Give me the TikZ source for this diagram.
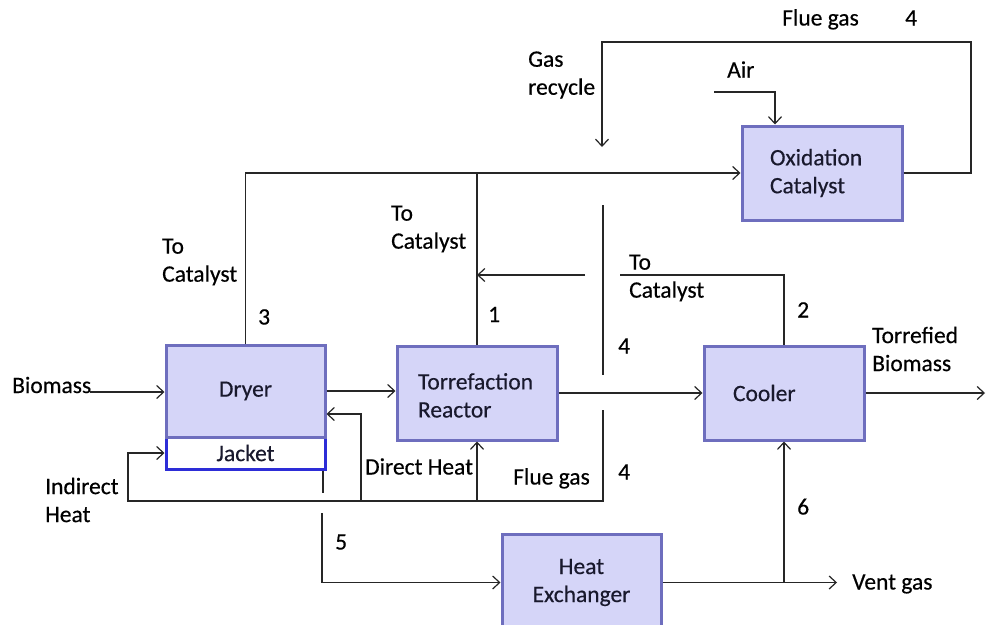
\documentclass[tikz,border=0pt]{standalone}
\usepackage{fontspec}
\setmainfont{Carlito}[FakeBold=0.4]
\usetikzlibrary{arrows.meta}
\definecolor{boxfill}{RGB}{213,213,248}
\definecolor{boxdraw}{RGB}{110,110,190}
\definecolor{jacketdraw}{RGB}{45,45,215}
\definecolor{boxtext}{RGB}{25,25,45}
\begin{document}
\begin{tikzpicture}[x=1pt,y=-1pt,
  every node/.style={font=\fontsize{23.5}{28}\selectfont},
  proc/.style={draw=boxdraw, fill=boxfill, line width=3pt, text=boxtext, inner sep=0pt},
  lbl/.style={inner sep=0pt, text=black},
  flow/.style={line width=1.2pt, draw=black!85},
  arr/.style={flow, -{Straight Barb[length=7pt,width=13pt]}}
]
\useasboundingbox (0,0) rectangle (987,624);
\fill[white] (0,0) rectangle (987,624);
\clip (0,0) rectangle (987,624);

% process boxes
\node[proc, draw=jacketdraw, fill=white, minimum width=159pt, minimum height=32pt] (jacket) at (245.5,453) {Jacket};
\node[proc, minimum width=159pt, minimum height=92pt] (dryer) at (245.5,391) {Dryer};
\node[proc, minimum width=160pt, minimum height=94pt, text width=118pt, align=left] (torr) at (477,393) {\rule{0pt}{21pt}Torrefaction\\Reactor};
\node[proc, minimum width=160pt, minimum height=94pt, text width=102pt, align=left] (cooler) at (784,393) {Cooler};
\node[proc, minimum width=160pt, minimum height=94pt, text width=104pt, align=left] (oxid) at (822,173) {Oxidation\\Catalyst};
\node[proc, minimum width=159pt, minimum height=97pt, align=center] (hx) at (581.5,582.5) {Heat\\Exchanger};

% labels
\node[lbl, anchor=base west] (lbio) at (12,393) {Biomass};
\node[lbl, anchor=west, align=left] (lind) at (45,500) {Indirect\\Heat};
\node[lbl, anchor=west, align=left] (ltc3) at (162,262) {To\\Catalyst};
\node[lbl, anchor=west, align=left] (ltc1) at (391,229) {To\\Catalyst};
\node[lbl, anchor=west, align=left] (ltc2) at (629,278) {To\\Catalyst};
\node[lbl, anchor=west, align=left] (lgr) at (528,75) {Gas\\recycle};
\node[lbl, anchor=west, align=left] (ltb) at (872,349) {Torrefied\\Biomass};
\node[lbl, anchor=base west] (lfgt) at (782,25.5) {Flue gas};
\node[lbl, anchor=base west] (l4t) at (905,25.5) {4};
\node[lbl, anchor=base west] (lair) at (727,77.5) {Air};
\node[lbl, anchor=base west] (l3) at (258,324.5) {3};
\node[lbl, anchor=base west] (l1) at (488,322) {1};
\node[lbl, anchor=base west] (l2) at (797,317.5) {2};
\node[lbl, anchor=base west] (l4m) at (618,353.5) {4};
\node[lbl, anchor=base west] (l4b) at (618,479.5) {4};
\node[lbl, anchor=base west] (lfgb) at (513,484.5) {Flue gas};
\node[lbl, anchor=base west] (ldh) at (365,474.5) {Direct Heat};
\node[lbl, anchor=base west] (l6) at (797,514.5) {6};
\node[lbl, anchor=base west] (l5) at (335,549.5) {5};
\node[lbl, anchor=base west] (lvent) at (852,589.5) {Vent gas};

% main solid flow
\coordinate (bmS) at (90,392);
\draw[arr] (bmS) -- (bmS -| dryer.west);
\draw[arr] (dryer.east) -- (dryer.east -| torr.west);
\draw[arr] (torr.east) -- (cooler.west);
\coordinate (prodE) at (985,393);
\draw[arr] (cooler.east) -- (prodE);

% gases to catalyst
\draw[arr] (dryer.north) |- (oxid.west);
\draw[flow] (torr.north) -- (torr.north |- oxid.west);
\coordinate (fgA) at (585,275);
\draw[arr] (fgA) -- (fgA -| torr.north);
\coordinate (tcR) at (620,275);
\draw[flow] (cooler.north) |- (tcR);

% flue gas distribution
\coordinate (fgT1) at (603,205);
\coordinate (fgT2) at (603,375);
\draw[flow] (fgT1) -- (fgT2);
\coordinate (fgB1) at (603,410);
\coordinate (fgB2) at (603,501);
\coordinate (fgL) at (128,501);
\draw[arr] (fgB1) -- (fgB2) -- (fgL) |- (jacket.west);
\coordinate (dhB) at (361,501);
\coordinate (dhT) at (361,414);
\draw[arr] (dhB) -- (dhT) -- (dhT -| dryer.east);
\draw[arr] (torr.south |- fgB2) -- (torr.south);

% jacket outlet to heat exchanger
\coordinate (jS) at (323,493);
\draw[flow] (jS |- jacket.south) -- (jS);
\coordinate (hxS) at (322,513);
\draw[arr] (hxS) |- (hx.west);
\coordinate (vent) at (837,582.5);
\draw[arr] (hx.east) -- (vent);
\draw[arr] (cooler.south |- hx.east) -- (cooler.south);

% catalyst loop and air
\coordinate (loopTR) at (971,42);
\coordinate (recyc) at (602,147);
\draw[arr] (oxid.east) -| (loopTR) -| (recyc);
\coordinate (airS) at (714,92);
\coordinate (airC) at (775,92);
\draw[arr] (airS) -- (airC) -- (airC |- oxid.north);
\end{tikzpicture}
\end{document}
